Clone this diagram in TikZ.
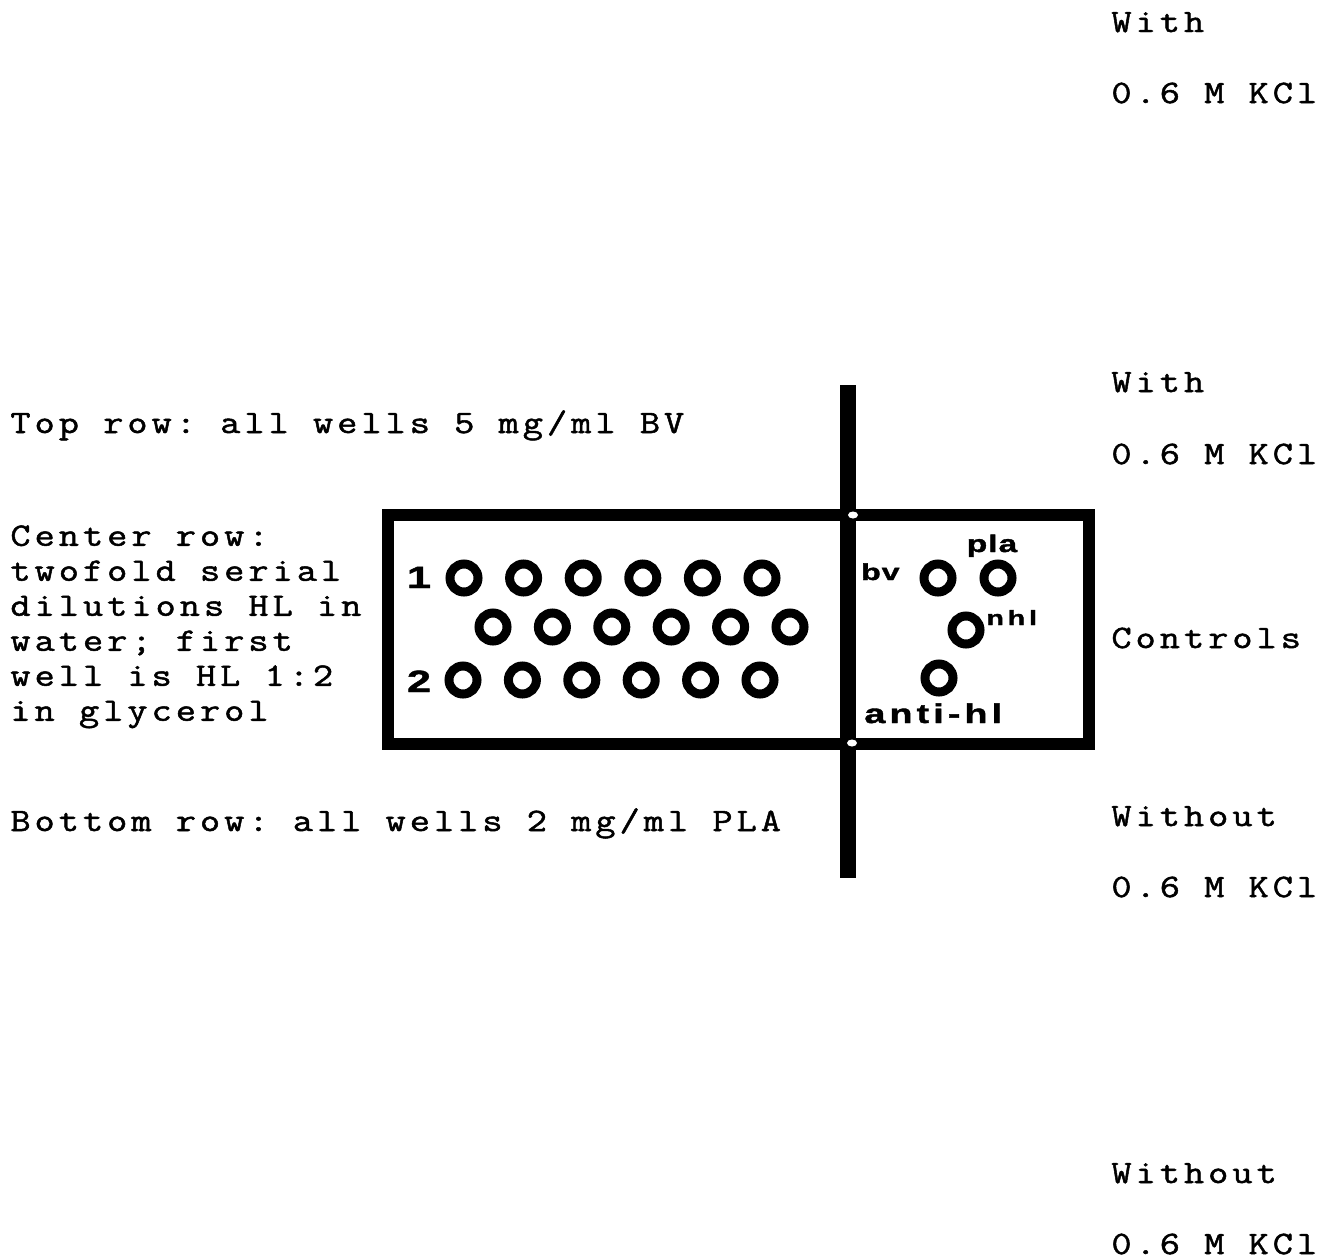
\documentclass[tikz,border=0pt]{standalone}
\usepackage{fontspec}
\usetikzlibrary{shapes.geometric}
\setmonofont[FakeStretch=1.2,LetterSpace=12.2,FakeBold=1.5]{Latin Modern Mono}
\newfontfamily\platefont[FakeStretch=1.4,LetterSpace=4,FakeBold=1.5]{Liberation Sans}

\begin{document}
\begin{tikzpicture}[x=0.5pt,y=-0.5pt]
  \tikzstyle{typed}=[anchor=base west, inner sep=0pt, font=\fontsize{16.35}{17.5}\selectfont\ttfamily]
  \tikzstyle{well}=[circle, draw, line width=4.5pt, minimum size=14pt, inner sep=0pt]
  \tikzstyle{platetext}=[inner sep=0pt, font=\platefont\bfseries\fontsize{13.5}{14}\selectfont]
  \tikzstyle{notch}=[ellipse, fill=white, inner sep=0pt, minimum width=5pt, minimum height=3.5pt]

  \useasboundingbox (0,0) rectangle (1329,1259);

  % salt conditions on the right
  \node[typed] (with1) at (1111,32) {With};
  \node[typed] (kcl1) at (1111,103) {0.6 M KCl};
  \node[typed] (with2) at (1111,392) {With};
  \node[typed] (kcl2) at (1111,464) {0.6 M KCl};
  \node[typed] (controls) at (1111,648) {Controls};
  \node[typed] (without1) at (1111,826) {Without};
  \node[typed] (kcl3) at (1111,897) {0.6 M KCl};
  \node[typed] (without2) at (1111,1183) {Without};
  \node[typed] (kcl4) at (1111,1254) {0.6 M KCl};

  % row descriptions on the left
  \node[typed] (toprow) at (10,433) {Top row: all wells 5 mg/ml BV};
  \node[typed, anchor=north west, align=left] (centerrow) at (10,525)
    {Center row:\\twofold serial\\dilutions HL in\\water; first\\well is HL 1:2\\in glycerol};
  \node[typed] (bottomrow) at (10,831) {Bottom row: all wells 2 mg/ml PLA};

  % plate and cut
  \draw[line width=6pt] (388,515) rectangle (1089,744);
  \draw[line width=8pt] (848,385) -- (848,878);
  \node[notch] (notchtop) at (853,515) {};
  \node[notch] (notchbot) at (852,743) {};

  % wells
  \foreach \i in {0,...,5} {
    \node[well] (top\i) at (464+59.6*\i,578) {};
    \node[well] (mid\i) at (493+59.4*\i,627) {};
    \node[well] (bot\i) at (463+59.4*\i,680) {};
  }
  \node[platetext, anchor=base, font=\platefont\bfseries\fontsize{15.4}{16}\selectfont] (one) at (419,588) {1};
  \node[platetext, anchor=base, font=\platefont\bfseries\fontsize{15.4}{16}\selectfont] (two) at (419,692) {2};

  % controls
  \node[well] (bv) at (938,578) {};
  \node[well] (pla) at (998,578) {};
  \node[well] (nhl) at (966,630) {};
  \node[well] (antihl) at (939,678) {};
  \node[platetext, anchor=base east, font=\platefont\bfseries\fontsize{11.5}{12}\selectfont] (bvtext) at (900,580) {bv};
  \node[platetext, anchor=base, font=\platefont\bfseries\fontsize{12}{13}\selectfont] (platext) at (992,552) {pla};
  \node[platetext, anchor=base west, font=\platefont\bfseries\fontsize{10.3}{11}\selectfont\addfontfeature{LetterSpace=18}] (nhltext) at (986,625) {nhl};
  \node[platetext, anchor=base west, font=\platefont\bfseries\fontsize{13.5}{14}\selectfont\addfontfeature{LetterSpace=15}] (antihltext) at (864,723) {anti-hl};
\end{tikzpicture}
\end{document}
